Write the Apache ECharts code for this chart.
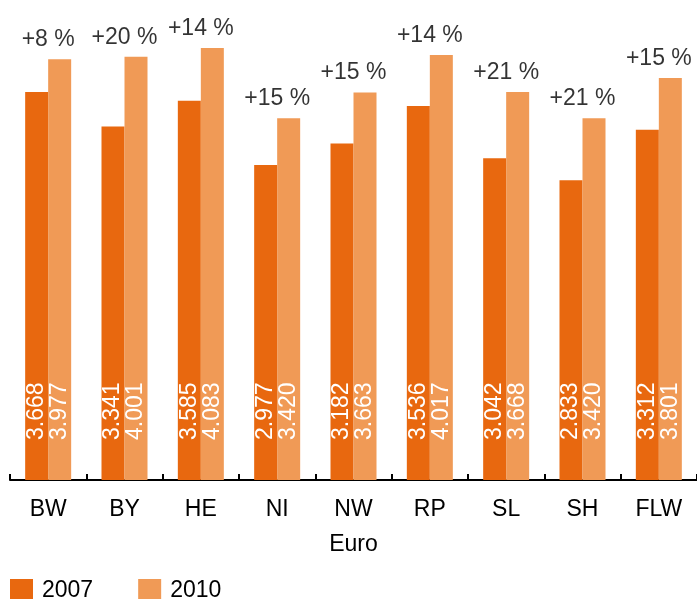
<!DOCTYPE html>
<html>
<head>
<meta charset="utf-8">
<script src="https://cdn.jsdelivr.net/npm/echarts@6/dist/echarts.min.js"></script>
<style>
  html, body { margin: 0; padding: 0; background: #fff; }
  #chart { width: 697px; height: 599px; }
</style>
</head>
<body>
<div id="chart"></div>
<script>
// Kategorien (Bundesländer)
const categories = ['BW', 'BY', 'HE', 'NI', 'NW', 'RP', 'SL', 'SH', 'FLW'];
// Werte in Euro
const values2007 = [3.668, 3.341, 3.585, 2.977, 3.182, 3.536, 3.042, 2.833, 3.312];
const values2010 = [3.977, 4.001, 4.083, 3.420, 3.663, 4.017, 3.668, 3.420, 3.801];
// Veränderung 2007 -> 2010
const changeLabels = ['+8 %', '+20 %', '+14 %', '+15 %', '+15 %', '+14 %', '+21 %', '+21 %', '+15 %'];

const FONT = '"Liberation Sans", Arial, sans-serif';
const COLOR_2007 = '#e8680f';
const COLOR_2010 = '#f09a56';

const valueLabel = {
    show: true,
    position: 'insideBottom',
    distance: 40,
    rotate: 90,
    align: 'left',
    verticalAlign: 'middle',
    color: '#fff',
    fontFamily: FONT,
    fontSize: 23,
    formatter: p => p.value.toFixed(3)
};

const chart = echarts.init(document.getElementById('chart'));
chart.setOption({
    animation: false,
    textStyle: { fontFamily: FONT },
    grid: { left: 10, right: 0, top: 4, bottom: 119 },
    legend: {
        data: ['2007', '2010'],
        left: 10,
        bottom: -3,
        padding: 0,
        itemWidth: 23,
        itemHeight: 23,
        itemGap: 45,
        icon: 'rect',
        textStyle: { fontSize: 23, color: '#000', fontFamily: FONT, padding: [0, 0, 0, 4] }
    },
    xAxis: {
        type: 'category',
        data: categories,
        name: 'Euro',
        nameLocation: 'middle',
        nameGap: 53,
        nameTextStyle: { fontSize: 23, color: '#000', fontFamily: FONT },
        axisLine: { lineStyle: { color: '#000', width: 2 } },
        axisTick: { show: true, inside: true, length: 6, lineStyle: { color: '#000', width: 2 } },
        axisLabel: { fontSize: 23, color: '#000', margin: 18, fontFamily: FONT }
    },
    yAxis: {
        type: 'value',
        min: 0,
        max: 4.5,
        show: false,
        splitLine: { show: false }
    },
    series: [
        {
            name: '2007',
            type: 'bar',
            data: values2007,
            barWidth: 23,
            barGap: '0%',
            itemStyle: { color: COLOR_2007 },
            label: valueLabel
        },
        {
            name: '2010',
            type: 'bar',
            data: values2010,
            barWidth: 23,
            itemStyle: { color: COLOR_2010 },
            label: valueLabel
        },
        {
            // Prozentangaben mittig über jeder Gruppe
            name: 'change',
            type: 'scatter',
            data: values2010,
            symbolSize: 0,
            silent: true,
            label: {
                show: true,
                position: 'top',
                distance: 8,
                color: '#000',
                fontFamily: FONT,
                fontSize: 23,
                formatter: p => changeLabels[p.dataIndex]
            }
        }
    ]
});
</script>
</body>
</html>
